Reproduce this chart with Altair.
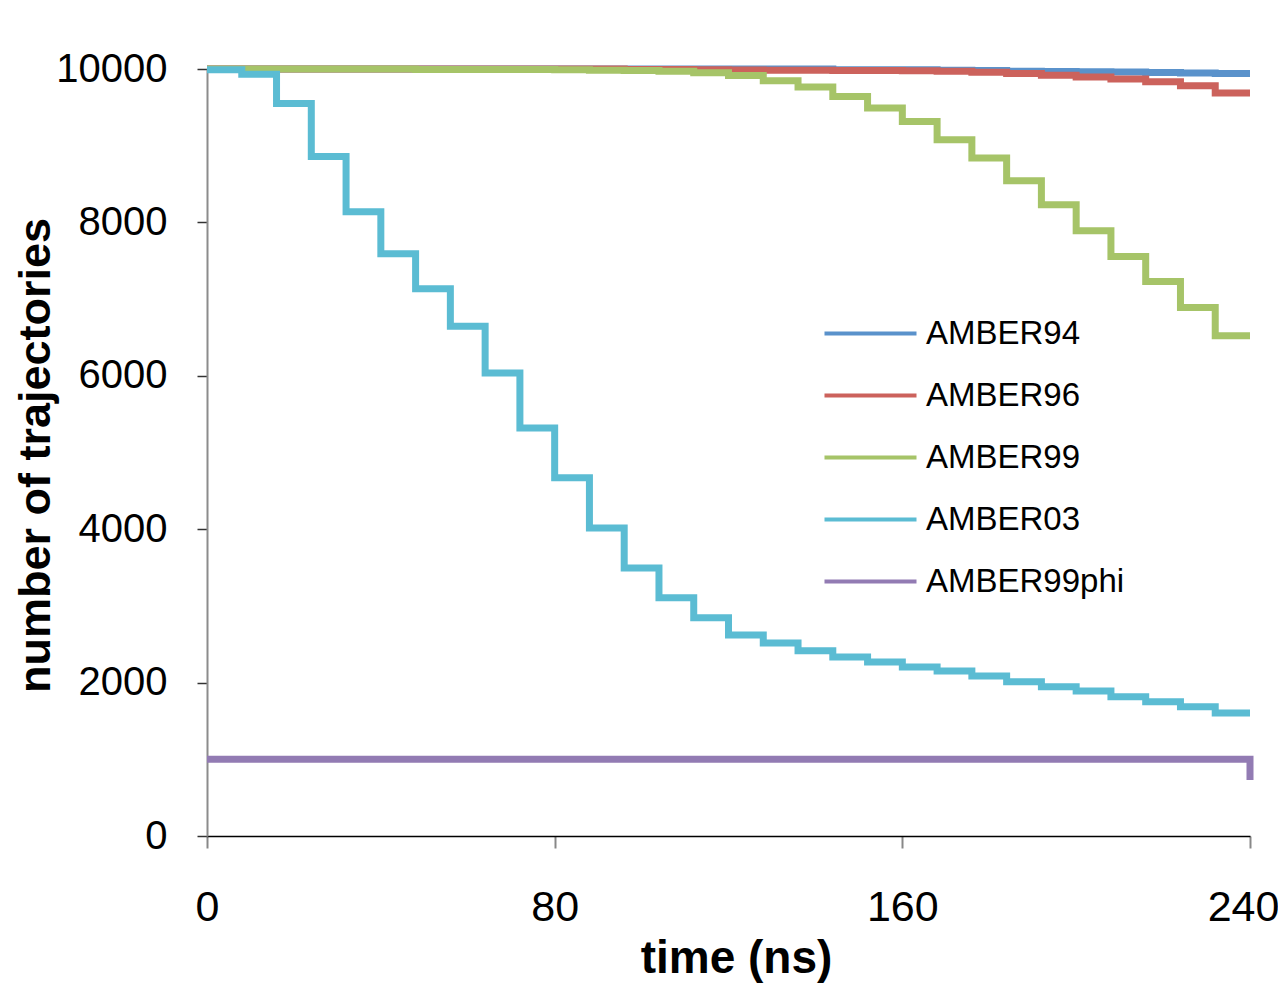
import altair as alt
import pandas as pd

series_names = ["AMBER94", "AMBER96", "AMBER99", "AMBER03", "AMBER99phi"]
series_colors = ["#5A92CB", "#CC625C", "#A6C468", "#5BBCD3", "#927BB3"]

times = [0, 8, 16, 24, 32, 40, 48, 56, 64, 72, 80, 88, 96, 104, 112, 120,
         128, 136, 144, 152, 160, 168, 176, 184, 192, 200, 208, 216, 224, 232, 240]

amber94 = [10000, 10000, 10000, 10000, 10000, 10000, 10000, 10000, 10000, 10000,
           10000, 10000, 10000, 10000, 10000, 10000, 10000, 10000, 9990, 9990,
           9990, 9985, 9980, 9970, 9968, 9965, 9960, 9956, 9948, 9940, 9940]
amber96 = [10000, 10000, 10000, 10000, 10000, 10000, 10000, 10000, 10000, 10000,
           10000, 10000, 9995, 9995, 9990, 9988, 9985, 9985, 9982, 9980,
           9978, 9972, 9958, 9940, 9917, 9896, 9870, 9835, 9782, 9687, 9687]
amber99 = [10000, 10000, 10000, 10000, 10000, 10000, 9995, 9995, 9995, 9995,
           9990, 9985, 9980, 9970, 9950, 9916, 9848, 9765, 9643, 9491,
           9317, 9078, 8839, 8543, 8230, 7891, 7556, 7230, 6891, 6521, 6521]
amber03 = [9990, 9930, 9550, 8860, 8140, 7590, 7135, 6645, 6035, 5320,
           4670, 4015, 3495, 3105, 2845, 2620, 2515, 2415, 2335, 2270,
           2205, 2150, 2085, 2010, 1945, 1890, 1815, 1750, 1685, 1605, 1605]
amber99phi = [1000, 1000, 1000, 1000, 1000, 1000, 1000, 1000, 1000, 1000,
              1000, 1000, 1000, 1000, 1000, 1000, 1000, 1000, 1000, 1000,
              1000, 1000, 1000, 1000, 1000, 1000, 1000, 1000, 1000, 1000, 730]

x_ticks = [0, 80, 160, 240]
y_ticks = [0, 2000, 4000, 6000, 8000, 10000]

rows = []
for name, vals in zip(series_names, [amber94, amber96, amber99, amber03, amber99phi]):
    for t, v in zip(times, vals):
        rows.append({"time": t, "count": v, "series": name})
df = pd.DataFrame(rows)

FONT = "Liberation Sans"

chart = alt.Chart(df).mark_line(
    interpolate="step-after", strokeWidth=7, strokeJoin="miter"
).encode(
    x=alt.X(
        "time:Q",
        scale=alt.Scale(domain=[0, 240], nice=False, zero=False),
        axis=alt.Axis(
            values=x_ticks, title="time (ns)", grid=False,
            domainColor="#000000", domainWidth=1.5,
            tickColor="#888888", tickWidth=2, tickSize=12,
            labelFont=FONT, labelFontSize=43, labelColor="#000000",
            labelPadding=38, labelFlush=False, labelOverlap=False,
            labelOffset=alt.condition("datum.value == 240", alt.value(-7), alt.value(0)),
            titleFont=FONT, titleFontSize=46, titleFontWeight="bold",
            titleColor="#000000", titleX=529, titleY=136,
            titleAlign="center", titleBaseline="alphabetic",
        ),
    ),
    y=alt.Y(
        "count:Q",
        scale=alt.Scale(domain=[0, 10000], nice=False),
        axis=alt.Axis(
            values=y_ticks, format="d", title="number of trajectories", grid=False,
            domainColor="#8C8C8C", domainWidth=2,
            tickColor="#333333", tickWidth=1.5, tickSize=10,
            labelFont=FONT, labelFontSize=40, labelColor="#000000",
            labelPadding=30, labelFlush=False, labelOverlap=False,
            titleFont=FONT, titleFontSize=45, titleFontWeight="bold",
            titleColor="#000000", titleAngle=270, titleX=-158, titleY=386,
            titleAlign="center", titleBaseline="alphabetic",
        ),
    ),
    color=alt.Color(
        "series:N",
        scale=alt.Scale(domain=series_names, range=series_colors),
        legend=alt.Legend(
            title=None, orient="none", legendX=647, legendY=248,
            symbolType="M-3.286,0H3.286", symbolSize=784, symbolStrokeWidth=4,
            labelFont=FONT, labelFontSize=33, labelColor="#000000",
            labelOffset=39, rowPadding=28, padding=0, labelLimit=0,
        ),
    ),
).properties(
    width=1043,
    height=767,
    autosize=alt.AutoSizeParams(type="none"),
    padding={"left": 199, "top": 61, "right": 28, "bottom": 148},
    background="#ffffff",
).configure_view(stroke=None)

chart.save("out.html", embed_options={"renderer": "svg", "actions": False})
